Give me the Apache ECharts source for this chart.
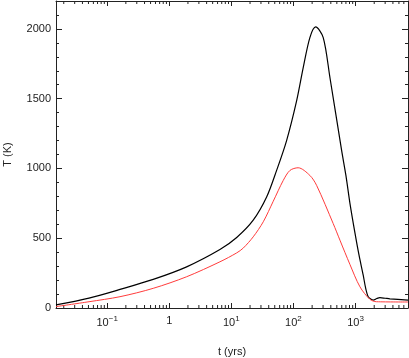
<!DOCTYPE html>
<html>
<head>
<meta charset="utf-8">
<script src="https://cdn.jsdelivr.net/npm/echarts@6/dist/echarts.min.js"></script>
<style>
	html, body { margin: 0; padding: 0; background: #fff; }
	#chart { width: 409px; height: 358px; }
</style>
</head>
<body>
<div id="chart"></div>
<script>
// time in years, temperature in K
var tBlack = [0.015, 0.051, 0.161, 0.552, 1.905, 6.55, 12.2, 22.5, 37.0, 53.6, 77.6, 112.7, 144, 184, 228, 302, 387, 597, 700, 813, 977, 1137, 1330, 1459, 1600, 1790, 1930, 2200, 2470, 3000, 3580, 7000];
var tempBlack = [22, 71, 133, 205, 295, 419, 505, 629, 795, 986, 1200, 1486, 1724, 1938, 2014, 1938, 1652, 1129, 950, 750, 540, 380, 235, 140, 81, 62, 57, 68, 74, 70, 66, 57];
var tRed = [0.015, 0.051, 0.161, 0.552, 1.905, 6.55, 12.2, 15.6, 22.5, 32.7, 47.3, 68.5, 87.9, 119, 184, 236, 437, 561, 813, 1178, 1706, 2187, 7000];
var tempRed = [10, 45, 81, 141, 224, 331, 395, 430, 510, 618, 765, 914, 986, 1005, 950, 879, 605, 486, 312, 152, 62, 45, 43];

var xDecades = [-1, 0, 1, 2, 3];
var yTicks = [0, 500, 1000, 1500, 2000];
var xMin = 0.015, xMax = 7000, yMin = 0, yMax = 2200;

function pairs(xs, ys) {
	return xs.map(function (x, i) { return [x, ys[i]]; });
}

// minor ticks of the log axis: 2..9 x 10^n
var minorT = [];
for (var n = -2; n <= 3; n++) {
	for (var k = 2; k <= 9; k++) {
		var v = k * Math.pow(10, n);
		if (v > xMin && v < xMax) minorT.push(v);
	}
}

function decadeLabel(v) {
	var e = Math.log10(v);
	var r = Math.round(e);
	if (Math.abs(e - r) > 1e-6 || xDecades.indexOf(r) < 0) return '';
	if (r === 0) return '1';
	return '10{sup|' + (r < 0 ? '\u2212' + (-r) : r) + '}';
}

var chart = echarts.init(document.getElementById('chart'), null, { renderer: 'canvas' });

var labelFont = 'Liberation Sans';
var axisCol = '#222';

var xCommon = {
	type: 'log',
	logBase: 10,
	min: xMin,
	max: xMax,
	splitLine: { show: false },
	axisLine: { show: true, onZero: false, lineStyle: { color: axisCol, width: 1 } },
	axisTick: { show: true, inside: true, length: 5, lineStyle: { color: axisCol } }
};

var yCommon = {
	type: 'value',
	min: yMin,
	max: yMax,
	interval: 500,
	splitLine: { show: false },
	axisLine: { show: true, lineStyle: { color: axisCol, width: 1 } },
	axisTick: { show: true, inside: true, length: 6, lineStyle: { color: axisCol } },
	minorTick: { show: true, splitNumber: 5, length: 3, lineStyle: { color: axisCol } }
};

var option = {
	backgroundColor: '#fff',
	animation: false,
	grid: { left: 56, right: 1, top: 1, bottom: 50, containLabel: false, outerBoundsMode: 'none' },
	xAxis: [
		Object.assign({}, xCommon, {
			position: 'bottom',
			name: 't (yrs)',
			nameLocation: 'middle',
			nameGap: 38,
			nameTextStyle: { color: '#222', fontSize: 11, fontFamily: labelFont },
			axisLabel: {
				margin: 7,
				color: '#222',
				fontSize: 11,
				fontFamily: labelFont,
				formatter: decadeLabel,
				rich: {
					sup: { fontSize: 8, fontFamily: labelFont, color: '#222', padding: [0, 0, 7, 0] }
				}
			}
		}),
		Object.assign({}, xCommon, {
			position: 'top',
			axisLabel: { show: false }
		})
	],
	yAxis: [
		Object.assign({}, yCommon, {
			position: 'left',
			name: 'T (K)',
			nameLocation: 'middle',
			nameGap: 43,
			nameTextStyle: { color: '#222', fontSize: 11, fontFamily: labelFont },
			axisLabel: {
				margin: 5,
				color: '#222',
				fontSize: 11,
				fontFamily: labelFont,
				showMaxLabel: false,
				formatter: function (v) { return yTicks.indexOf(v) >= 0 ? String(v) : ''; }
			}
		}),
		Object.assign({}, yCommon, {
			position: 'right',
			axisLabel: { show: false }
		})
	],
	series: [
		{
			type: 'custom',
			silent: true,
			clip: false,
			data: minorT,
			renderItem: function (params, api) {
				var t = api.value(0);
				var b = api.coord([t, yMin]);
				var top = api.coord([t, yMax]);
				var st = { stroke: axisCol, lineWidth: 1 };
				return {
					type: 'group',
					children: [
						{ type: 'line', shape: { x1: b[0], y1: b[1], x2: b[0], y2: b[1] - 3 }, style: st },
						{ type: 'line', shape: { x1: top[0], y1: top[1], x2: top[0], y2: top[1] + 3 }, style: st }
					]
				};
			},
			encode: { x: 0 }
		},
		{
			name: 'T1',
			type: 'line',
			data: pairs(tBlack, tempBlack),
			smooth: 0.3,
			showSymbol: false,
			lineStyle: { color: '#000', width: 1.2 }
		},
		{
			name: 'T2',
			type: 'line',
			data: pairs(tRed, tempRed),
			smooth: 0.3,
			showSymbol: false,
			lineStyle: { color: '#ff3b3b', width: 1 }
		}
	]
};

chart.setOption(option);
</script>
</body>
</html>
